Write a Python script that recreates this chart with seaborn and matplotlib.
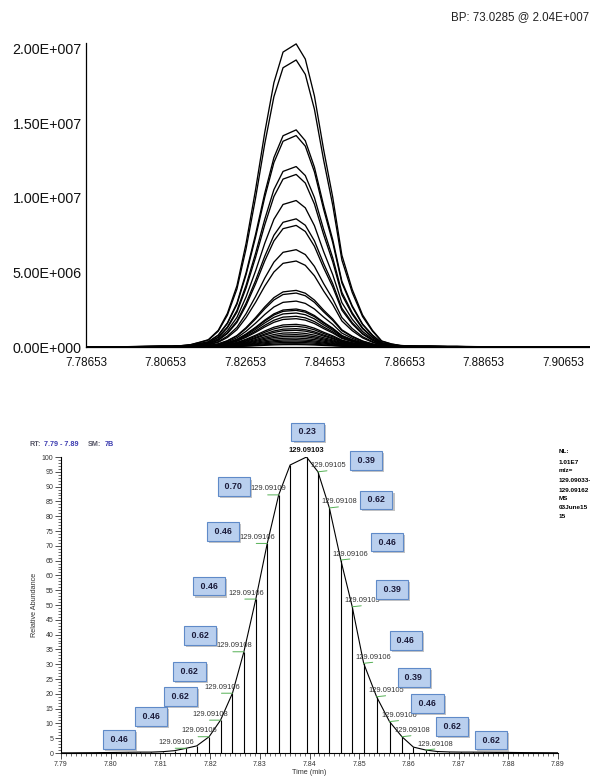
import numpy as np
import pandas as pd
import matplotlib
matplotlib.use("Agg")
import matplotlib.pyplot as plt
import matplotlib.patheffects as pe
import seaborn as sns
from matplotlib.ticker import FuncFormatter, MultipleLocator, FixedLocator

# ---------------- data ----------------
# scan times (min) and relative abundance (%) of the extracted ion chromatogram (lower panel)
scan_time = [7.7870, 7.7894, 7.7917, 7.7941, 7.7964, 7.7988, 7.8011, 7.8035, 7.8058, 7.8082,
             7.8105, 7.8129, 7.8152, 7.8173, 7.8198, 7.8221, 7.8245, 7.8268, 7.8292, 7.8315,
             7.8338, 7.8361, 7.8394, 7.8417, 7.8440, 7.8463, 7.8486, 7.8509, 7.8535, 7.8561,
             7.8586, 7.8609, 7.8634, 7.8657, 7.8681, 7.8704, 7.8728, 7.8751, 7.8775, 7.8798,
             7.8822, 7.8845, 7.8869, 7.8892, 7.8916, 7.8939, 7.8963, 7.8986, 7.9010, 7.9033,
             7.9057, 7.9080, 7.9104, 7.9127, 7.9150]
rel_abund = [0.05, 0.05, 0.05, 0.08, 0.10, 0.15, 0.20, 0.25, 0.30, 0.30,
             0.45, 0.80, 1.6, 2.4, 5.5, 11.1, 20.2, 34.2, 52.0, 70.8,
             87.2, 97.3, 100.0, 95.0, 82.8, 65.2, 49.4, 30.3, 19.0, 10.6,
             5.5, 2.0, 1.0, 0.50, 0.35, 0.30, 0.30, 0.25, 0.20, 0.20,
             0.15, 0.12, 0.10, 0.08, 0.06, 0.05, 0.05, 0.05, 0.04, 0.04,
             0.04, 0.03, 0.03, 0.03, 0.03]

# apex intensities of the overlaid chromatogram traces (upper panel)
eic_heights = [2.034e7, 1.926e7, 1.457e7, 1.419e7, 1.211e7, 1.158e7, 0.983e7, 0.860e7,
               0.816e7, 0.653e7, 0.577e7, 0.380e7, 0.362e7, 0.308e7, 0.255e7, 0.246e7,
               0.228e7, 0.206e7, 0.190e7, 0.152e7, 0.139e7, 0.123e7, 0.112e7, 0.096e7,
               0.083e7, 0.072e7, 0.060e7, 0.049e7, 0.040e7, 0.031e7, 0.022e7, 0.016e7]

top_xticks = [7.78653, 7.80653, 7.82653, 7.84653, 7.86653, 7.88653, 7.90653]
top_yticks = [0.0, 5.0e6, 1.0e7, 1.5e7, 2.0e7]
bp_text = "BP: 73.0285 @ 2.04E+007"

# labelled scans in lower panel
label_times = [7.8152, 7.8198, 7.8221, 7.8245, 7.8268, 7.8292, 7.8315, 7.8338,
               7.8394,
               7.8417, 7.8440, 7.8463, 7.8486, 7.8509, 7.8535, 7.8561, 7.8586, 7.8634]
mz_labels = ["129.09106", "129.09106", "129.09108", "129.09106", "129.09108", "129.09106",
             "129.09106", "129.09109",
             "129.09103",
             "129.09105", "129.09108", "129.09106", "129.09105", "129.09106", "129.09105",
             "129.09106", "129.09108", "129.09108"]
ppm_labels = ["0.46", "0.46", "0.62", "0.62", "0.62", "0.46", "0.46", "0.70",
              "0.23",
              "0.39", "0.62", "0.46", "0.39", "0.46", "0.39", "0.46", "0.62", "0.62"]

header_text = ["NL:", "1.01E7", "m/z=", "129.09033-", "129.09162", "MS", "03June15", "15"]

# ---------------- layout (pixel offsets for annotation placement) ----------------
label_side = ["L"] * 8 + ["C"] + ["R"] * 9
box_offsets = [(-67, 9), (-58, 20), (-40, 24), (-43, 22), (-44, 16), (-47, 13), (-44, 12), (-45, 8),
               (1, 25),
               (48, 11), (47, 8), (46, 18), (40, 17), (42, 23), (37, 19), (38, 18), (50, 10), (65, 10)]

# ---------------- figure ----------------
sns.set_style("white")
plt.rcParams["font.family"] = ["Liberation Sans", "DejaVu Sans"]

W, H = 590, 777
fig = plt.figure(figsize=(W / 100, H / 100), dpi=100)
fig.patch.set_facecolor("white")


def px_rect(x0, y0, x1, y1):
    return [x0 / W, 1 - y1 / H, (x1 - x0) / W, (y1 - y0) / H]


# ---- upper panel ----
ax1 = fig.add_axes(px_rect(86, 43, 590, 347))
rows = []
for k, h in enumerate(eic_heights):
    for t, r in zip(scan_time, rel_abund):
        rows.append((k, t, h * r / 100.0))
top_df = pd.DataFrame(rows, columns=["trace", "time", "intensity"])
sns.lineplot(data=top_df, x="time", y="intensity", units="trace", estimator=None,
             color="black", linewidth=0.95, ax=ax1, legend=False)
ax1.set_xlim(7.78653, 7.78653 + 504 / 79.5 * 0.02)
ax1.set_ylim(0, 2.04e7)
ax1.xaxis.set_major_locator(FixedLocator(top_xticks))
ax1.yaxis.set_major_locator(FixedLocator(top_yticks))
ax1.xaxis.set_major_formatter(FuncFormatter(lambda v, p: f"{v:.5f}"))


def sci3(v, p):
    if v == 0:
        return "0.00E+000"
    e = int(np.floor(np.log10(abs(v))))
    return f"{v / 10**e:.2f}E+{e:03d}"


ax1.yaxis.set_major_formatter(FuncFormatter(sci3))
ax1.tick_params(axis="x", length=0, pad=7, labelsize=8.4, colors="#111111")
ax1.tick_params(axis="y", length=0, pad=3, labelsize=10.3, colors="#111111")
for s in ["top", "right"]:
    ax1.spines[s].set_visible(False)
for s in ["left", "bottom"]:
    ax1.spines[s].set_color("black")
    ax1.spines[s].set_linewidth(0.9)
ax1.set_xlabel("")
ax1.set_ylabel("")
fig.text(589 / W, 1 - 17 / H, bp_text, ha="right", va="center", fontsize=8.3, color="#222222")

# ---- lower panel ----
ax2 = fig.add_axes(px_rect(61, 457, 558, 753))
sns.lineplot(x=scan_time, y=rel_abund, color="black", linewidth=0.8, ax=ax2, estimator=None)
ax2.vlines(scan_time, 0, rel_abund, color="black", linewidth=0.8)
ax2.set_xlim(7.79, 7.89)
ax2.set_ylim(0, 100)
ax2.xaxis.set_major_locator(MultipleLocator(0.01))
ax2.xaxis.set_minor_locator(MultipleLocator(0.001))
ax2.yaxis.set_major_locator(MultipleLocator(5))
ax2.yaxis.set_minor_locator(MultipleLocator(1))
ax2.xaxis.set_major_formatter(FuncFormatter(lambda v, p: f"{v:.2f}"))
ax2.yaxis.set_major_formatter(FuncFormatter(lambda v, p: f"{v:.0f}"))
ax2.tick_params(which="major", direction="out", length=4, width=0.6, labelsize=5,
                colors="#333333", pad=1.5)
ax2.tick_params(which="minor", direction="out", length=2, width=0.5, colors="#333333")
ax2.tick_params(axis="x", which="both", bottom=True)
ax2.tick_params(axis="y", which="both", left=True)
for s in ["top", "right"]:
    ax2.spines[s].set_visible(False)
for s in ["left", "bottom"]:
    ax2.spines[s].set_color("black")
    ax2.spines[s].set_linewidth(0.8)
ax2.set_xlabel("")
ax2.set_ylabel("")

for t, mz, ppm, side, boff in zip(label_times, mz_labels, ppm_labels, label_side, box_offsets):
    v = rel_abund[scan_time.index(t)]
    if side == "L":
        toff, goff, weight, col = (-10, 6), (-11, 0), "normal", "#333333"
    elif side == "R":
        toff, goff, weight, col = (10, 6), (9, 1), "normal", "#333333"
    else:
        toff, goff, weight, col = (0, 6), None, "bold", "#111111"
    ax2.annotate(mz, xy=(t, v), xytext=toff, textcoords="offset pixels",
                 ha="center", va="center", fontsize=5.4, color=col, fontweight=weight,
                 annotation_clip=False)
    if goff is not None:
        ax2.annotate("", xy=(t, v), xytext=goff, textcoords="offset pixels",
                     arrowprops=dict(arrowstyle="-", color="#55b055", lw=0.7,
                                     shrinkA=0, shrinkB=0))
    box = ax2.annotate(f" {ppm} ", xy=(t, v), xytext=boff, textcoords="offset pixels",
                       ha="center", va="center", fontsize=6.4, fontweight="bold", color="#1b1b3a",
                       bbox=dict(boxstyle="square,pad=0.55", fc="#b9cfee", ec="#5f8ac8", lw=0.8),
                       annotation_clip=False)
    box.get_bbox_patch().set_path_effects(
        [pe.withSimplePatchShadow(offset=(1.5, -1.5), shadow_rgbFace="#8a8a8a", alpha=0.5)])

# header texts of lower panel
fy = 1 - 444 / H
fig.text(29 / W, fy, "RT:", ha="left", va="center", fontsize=5.2, fontweight="bold", color="#555566")
fig.text(44 / W, fy, "7.79 - 7.89", ha="left", va="center", fontsize=5.2, fontweight="bold", color="#3b3bb0")
fig.text(88 / W, fy, "SM:", ha="left", va="center", fontsize=5.2, fontweight="bold", color="#555566")
fig.text(105 / W, fy, "7B", ha="left", va="center", fontsize=5.2, fontweight="bold", color="#3b3bb0")

for txt, yy in zip(header_text, [451.7, 462, 471, 481, 490, 498, 507.7, 516]):
    fig.text(559 / W, 1 - yy / H, txt, ha="left", va="center", fontsize=4.6,
             fontweight="bold", color="black")

fig.text(309 / W, 1 - 773 / H, "Time (min)", ha="center", va="center", fontsize=5.2, color="#333333")
fig.text(35 / W, 1 - 605 / H, "Relative Abundance", ha="center", va="center", rotation=90,
         fontsize=5.2, color="#333333")

fig.savefig("out.png", dpi=100, facecolor="white")
